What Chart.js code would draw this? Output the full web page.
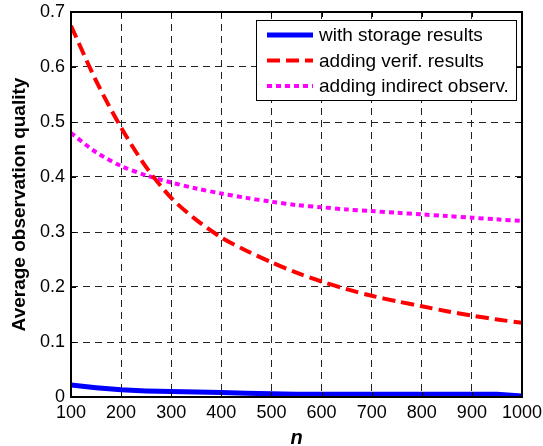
<!DOCTYPE html>
<html>
<head>
<meta charset="utf-8">
<script src="https://cdn.jsdelivr.net/npm/chart.js@4.4.0/dist/chart.umd.min.js"></script>
<style>
    html, body { margin: 0; padding: 0; background: #fff; }
    #wrap { width: 543px; height: 446px; position: relative; }
</style>
</head>
<body>
<div id="wrap"><canvas id="qualityChart"></canvas></div>
<script>
// Number of nodes n
const nValues = [100, 150, 200, 250, 300, 350, 400, 450, 500, 550, 600, 650, 700, 750, 800, 850, 900, 950, 1000];

// Series
const storageResults = [0.022, 0.017, 0.013, 0.011, 0.010, 0.009, 0.008, 0.007, 0.006, 0.005, 0.005, 0.005, 0.005, 0.005, 0.005, 0.005, 0.005, 0.005, 0.002];
const verifResults   = [0.675, 0.575, 0.490, 0.418, 0.362, 0.322, 0.290, 0.266, 0.245, 0.226, 0.210, 0.196, 0.184, 0.174, 0.165, 0.156, 0.148, 0.141, 0.135];
const indirectObserv = [0.480, 0.445, 0.420, 0.403, 0.390, 0.379, 0.370, 0.362, 0.355, 0.349, 0.345, 0.341, 0.338, 0.335, 0.332, 0.329, 0.326, 0.323, 0.320];

const seriesLabels = ['with storage results', 'adding verif. results', 'adding indirect observ.'];
const yTicks = [0, 0.1, 0.2, 0.3, 0.4, 0.5, 0.6, 0.7];
const xTicks = [100, 200, 300, 400, 500, 600, 700, 800, 900, 1000];

const FONT = '"Liberation Sans", Arial, sans-serif';

function toPoints(values) {
    return nValues.map((n, i) => ({ x: n, y: values[i] }));
}

// Box around the plot with MATLAB-like inner tick marks, plus boxed legend
const boxPlugin = {
    id: 'boxPlugin',
    afterDatasetsDraw(chart) {
        const { ctx, chartArea: a, scales } = chart;
        ctx.save();
        ctx.strokeStyle = '#000';
        ctx.lineWidth = 1;
        ctx.setLineDash([]);
        const len = 5;
        ctx.beginPath();
        xTicks.forEach(v => {
            const px = Math.round(scales.x.getPixelForValue(v)) + 0.5;
            ctx.moveTo(px, a.bottom); ctx.lineTo(px, a.bottom - len);
            ctx.moveTo(px, a.top); ctx.lineTo(px, a.top + len);
        });
        yTicks.forEach(v => {
            const py = Math.round(scales.y.getPixelForValue(v)) + 0.5;
            ctx.moveTo(a.left, py); ctx.lineTo(a.left + len, py);
            ctx.moveTo(a.right, py); ctx.lineTo(a.right - len, py);
        });
        ctx.stroke();
        ctx.lineWidth = 2;
        ctx.strokeRect(a.left, a.top, a.right - a.left, a.bottom - a.top);
        ctx.restore();
    },
    afterDraw(chart) {
        const { ctx, chartArea: a } = chart;
        const boxW = 260, boxH = 80;
        const bx = a.right - 6 - boxW, by = a.top + 8;
        ctx.save();
        ctx.fillStyle = '#fff';
        ctx.fillRect(bx, by, boxW, boxH);
        ctx.strokeStyle = '#000';
        ctx.lineWidth = 1;
        ctx.strokeRect(bx + 0.5, by + 0.5, boxW, boxH);
        ctx.font = '19px ' + FONT;
        ctx.textBaseline = 'middle';
        chart.data.datasets.forEach((ds, i) => {
            const cy = by + 15 + i * 25.5;
            ctx.strokeStyle = ds.borderColor;
            ctx.lineWidth = ds.borderWidth;
            ctx.setLineDash(ds.borderDash || []);
            ctx.lineCap = 'butt';
            ctx.beginPath();
            ctx.moveTo(bx + 11, cy);
            ctx.lineTo(bx + 57, cy);
            ctx.stroke();
            ctx.setLineDash([]);
            ctx.fillStyle = '#000';
            ctx.fillText(ds.label, bx + 63, cy + 1);
        });
        ctx.restore();
    }
};

new Chart(document.getElementById('qualityChart'), {
    type: 'line',
    data: {
        datasets: [{
            label: seriesLabels[0],
            data: toPoints(storageResults),
            borderColor: '#0000ff',
            borderWidth: 5,
            pointRadius: 0,
            tension: 0
        }, {
            label: seriesLabels[1],
            data: toPoints(verifResults),
            borderColor: '#ff0000',
            borderWidth: 4,
            borderDash: [13, 6],
            pointRadius: 0,
            tension: 0.3
        }, {
            label: seriesLabels[2],
            data: toPoints(indirectObserv),
            borderColor: '#ff00ff',
            borderWidth: 4,
            borderDash: [5, 4],
            pointRadius: 0,
            tension: 0.3
        }]
    },
    options: {
        responsive: true,
        maintainAspectRatio: false,
        animation: false,
        layout: { padding: { top: 12, right: 21, left: 0, bottom: 0 } },
        plugins: {
            legend: { display: false },
            tooltip: { enabled: false }
        },
        scales: {
            x: {
                type: 'linear',
                min: 100,
                max: 1000,
                afterBuildTicks(scale) { scale.ticks = xTicks.map(v => ({ value: v })); },
                afterFit(scale) {
                    scale.height = 49;
                    scale.paddingLeft = 0;
                    scale.paddingRight = 0;
                },
                ticks: {
                    color: '#000',
                    font: { family: FONT, size: 18 },
                    padding: 5,
                    maxRotation: 0,
                    callback: v => String(v)
                },
                grid: {
                    color: '#222',
                    lineWidth: 1,
                    drawTicks: false
                },
                border: { display: false, dash: [7, 5] },
                title: {
                    display: true,
                    text: 'n',
                    color: '#000',
                    font: { family: FONT, size: 20, weight: 'bold', style: 'italic', lineHeight: 0.8 },
                    padding: { top: 0, bottom: 0 }
                }
            },
            y: {
                min: 0,
                max: 0.7,
                afterBuildTicks(scale) { scale.ticks = yTicks.map(v => ({ value: v })); },
                afterFit(scale) {
                    scale.width = 71;
                    scale.paddingTop = 0;
                    scale.paddingBottom = 0;
                },
                ticks: {
                    color: '#000',
                    font: { family: FONT, size: 18 },
                    padding: 6,
                    callback: v => String(+v.toFixed(1))
                },
                grid: {
                    color: '#222',
                    lineWidth: 1,
                    drawTicks: false
                },
                border: { display: false, dash: [7, 5] },
                title: {
                    display: true,
                    text: 'Average observation quality',
                    color: '#000',
                    font: { family: FONT, size: 19, weight: 'bold' },
                    padding: { top: 8, bottom: 0 }
                }
            }
        }
    },
    plugins: [boxPlugin]
});
</script>
</body>
</html>
